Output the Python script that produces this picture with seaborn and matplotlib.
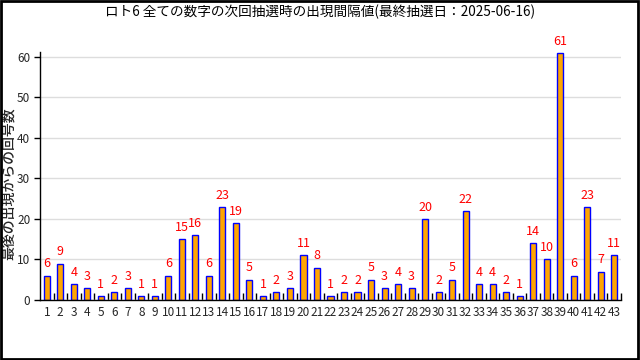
import matplotlib
matplotlib.use("Agg")
import matplotlib.pyplot as plt
import numpy as np
import pandas as pd
import seaborn as sns

# --------------------------- DATA ---------------------------

numbers = [str(n) for n in range(1, 44)]
intervals = [6, 9, 4, 3, 1, 2, 3, 1, 1, 6,
             15, 16, 6, 23, 19, 5, 1, 2, 3, 11,
             8, 1, 2, 2, 5, 3, 4, 3, 20, 2,
             5, 22, 4, 4, 2, 1, 14, 10, 61, 6,
             23, 7, 11]
yticks = [0, 10, 20, 30, 40, 50, 60]

title = "ロト6 全ての数字の次回抽選時の出現間隔値(最終抽選日：2025-06-16)"
ylabel = "最後の出現からの回号数"

df = pd.DataFrame({"number": numbers, "interval": intervals})

# --------------------------- PLOT ---------------------------

sns.set_theme(style="white")
plt.rcParams["font.family"] = ["Noto Sans CJK JP", "DejaVu Sans"]

fig = plt.figure(figsize=(6.4, 3.6), dpi=100)
ax = fig.add_axes([40 / 640, 60 / 360, 581 / 640, 248 / 360])

sns.barplot(data=df, x="number", y="interval", color="#FFA500",
            edgecolor="#0000FF", linewidth=1.0, width=0.45,
            saturation=1, ax=ax)

for i, v in enumerate(intervals):
    ax.text(i, v + 1.3, str(v), ha="center", va="bottom",
            color="#FF0000", fontsize=9)

ax.set_xlim(-0.5, len(numbers) - 0.5)
ax.set_ylim(0, 61.2)
ax.set_yticks(yticks)
ax.yaxis.grid(True, color="#DDDDDD", linewidth=1)
ax.set_axisbelow(True)

# boundary ticks between the numbers, labels under each bar
ax.set_xticks(np.arange(len(numbers)))
ax.set_xticklabels(numbers)
ax.set_xticks(np.arange(len(numbers)) + 0.5, minor=True)
ax.tick_params(axis="x", which="major", length=0, labelsize=8.5, pad=4)
ax.tick_params(axis="x", which="minor", direction="in", length=5,
               width=1, color="black", bottom=True)
ax.tick_params(axis="y", which="major", direction="out", length=4,
               width=1, color="black", left=True, labelsize=8.5, pad=3)

for side in ["top", "right"]:
    ax.spines[side].set_visible(False)
for side in ["left", "bottom"]:
    ax.spines[side].set_color("black")
    ax.spines[side].set_linewidth(1)

ax.set_xlabel("")
ax.set_ylabel(ylabel, fontsize=10, fontweight="medium", va="center")
ax.yaxis.set_label_coords(-(40 - 9) / 581, 0.47)
fig.text(0.5, 1 - 12 / 360, title, ha="center", va="center",
         fontsize=9.8, color="black")

# black frame around the whole picture
fig.patches.append(plt.Rectangle((0.001, 0.002), 0.996, 0.995,
                                 transform=fig.transFigure, fill=False,
                                 edgecolor="black", linewidth=2))

fig.savefig("out.png", dpi=100)
